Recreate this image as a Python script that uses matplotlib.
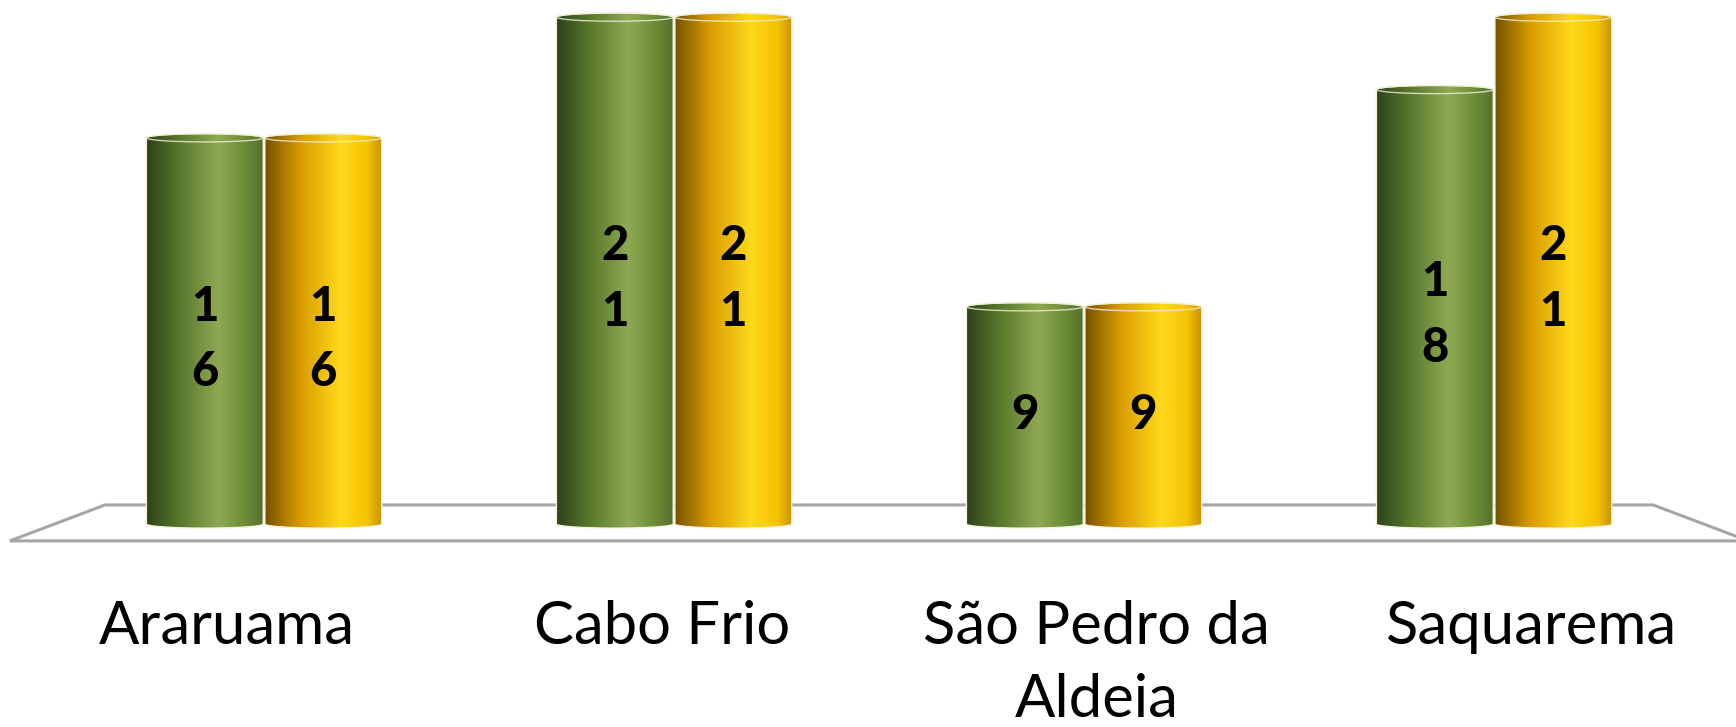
import numpy as np
import matplotlib
matplotlib.use("Agg")
import matplotlib.pyplot as plt
from matplotlib.patches import Polygon, Ellipse
from matplotlib.colors import LinearSegmentedColormap

# data
cidades = ["Araruama", "Cabo Frio", "São Pedro da\nAldeia", "Saquarema"]
serie_verde = [16, 21, 9, 18]
serie_amarela = [16, 21, 9, 21]

verde = LinearSegmentedColormap.from_list(
    "verde", [(0.0, "#2c4218"), (0.3, "#5b7a2d"), (0.62, "#8fa953"),
              (0.85, "#6c8c37"), (1.0, "#55712a")])
amarela = LinearSegmentedColormap.from_list(
    "amarela", [(0.0, "#755200"), (0.3, "#d89c00"), (0.65, "#ffd91c"),
                (0.88, "#f5c200"), (1.0, "#c79200")])

fig = plt.figure(figsize=(17.36, 7.27), dpi=100)
ax = fig.add_axes([0, 0, 1, 1])
ax.set_axis_off()

largura = 0.285
b = 0.17  # half height of the elliptical caps (data units)
grad = np.linspace(0, 1, 256).reshape(1, -1)


def cilindro(cx, v, cmap, z):
    a = largura / 2
    t1 = np.linspace(np.pi, 2 * np.pi, 60)
    t2 = np.linspace(0, np.pi, 60)
    baixo = np.column_stack([cx + a * np.cos(t1), b * np.sin(t1)])
    cima = np.column_stack([cx + a * np.cos(t2), v + b * np.sin(t2)])
    corpo = Polygon(np.vstack([baixo, cima]), closed=True, facecolor="none",
                    edgecolor="#f4f1dc", lw=1.0, zorder=z + 0.2)
    ax.add_patch(corpo)
    im = ax.imshow(grad, cmap=cmap, extent=[cx - a, cx + a, -b, v + b],
                   aspect="auto", interpolation="bicubic", zorder=z)
    im.set_clip_path(corpo)
    tampa = Ellipse((cx, v), 2 * a, 2 * b, facecolor="none",
                    edgecolor="#f2efd6", lw=1.0, alpha=0.8, zorder=z + 0.3)
    ax.add_patch(tampa)


# floor of the 3D chart (perspective trapezoid)
centro = 1.5
f_tras, f_frente = 0.944, 1.06
y_tras, y_frente = 0.79, -0.70
piso = [(centro - 2 * f_frente, y_frente), (centro - 2 * f_tras, y_tras),
        (centro + 2 * f_tras, y_tras), (centro + 2 * f_frente, y_frente)]
ax.add_patch(Polygon(piso, closed=True, facecolor="none", edgecolor="#a6a6a6",
                     lw=2.2, zorder=1))

for i in range(len(cidades)):
    xa = i + largura / 2 + 0.002
    xv = i - largura / 2 - 0.002
    cilindro(xa, serie_amarela[i], amarela, 3)
    cilindro(xv, serie_verde[i], verde, 4)
    for x, v in [(xv, serie_verde[i]), (xa, serie_amarela[i])]:
        rotulo = "\n".join(str(v))
        y = v / 2 - (0.35 if len(rotulo) > 1 else 0)
        ax.text(x, y, rotulo, ha="center", va="center",
                fontsize=34, fontweight="black", family="Lato",
                linespacing=1.6, color="black", zorder=10)
    xl = centro + (i - centro) * f_frente
    ax.text(xl, -3.15, cidades[i], ha="center", va="top", fontsize=43,
            family="Lato", linespacing=1.43, color="black")

ax.set_xlim(-0.644, 3.590)
ax.set_ylim(-8.41, 21.71)

fig.savefig("out.png", dpi=100, facecolor="white")
